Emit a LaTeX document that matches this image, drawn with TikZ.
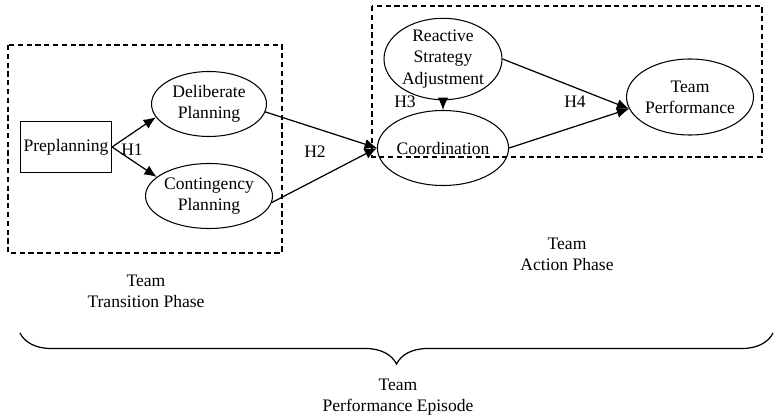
\documentclass[tikz,border=0pt]{standalone}
\usepackage{fontspec}
\setmainfont{Liberation Serif}
\usepackage{tikz}
\usetikzlibrary{positioning,decorations.pathreplacing,shapes,arrows.meta}
\tikzstyle{blk}=[draw, minimum height = 1.02cm, minimum width=1.82cm, inner sep=1pt, line width=0.6pt]
\tikzstyle{ell}=[draw, ellipse, minimum height = 1.3cm, minimum width=2.3cm, inner sep=0pt, align=center, line width=0.6pt]
\tikzstyle{phase}=[draw, dashed, dash pattern=on 3pt off 2pt, line width=0.9pt]
\tikzstyle{lab}=[align=center]

\begin{document}
\begin{tikzpicture}[node distance=2cm,auto,>={Latex[length=7pt,width=6pt]}]
\useasboundingbox (0,0) rectangle (15.48,-8.38);

\node[blk] at (1.32,-2.94) (pre) {Preplanning};
\node[ell] at (4.18,-2.08) (dp) {Deliberate\\Planning};
\node[ell, below of = dp, node distance = 1.84cm] (cp) {Contingency\\Planning};

\node[ell, minimum height = 1.56cm, minimum width = 2.36cm] at (8.86,-1.18) (rsa) {Reactive\\Strategy\\Adjustment};
\node[ell, minimum height = 1.5cm, minimum width = 2.36cm, below of = rsa, node distance = 1.78cm] (coord) {Coordination};
\node[ell, minimum height = 1.52cm, minimum width = 2.32cm] at (13.8,-1.94) (tp) {Team\\Performance};

% hypothesis labels
\node at (2.64,-3.0) (h1) {H1};
\node at (6.3,-3.04) (h2) {H2};
\node at (8.1,-2.04) (h3) {H3};
\node at (11.5,-2.04) (h4) {H4};

\draw[->, line width=0.7pt] (pre.east) -- (dp.194);
\draw[->, line width=0.7pt] (pre.east) -- (cp.160);
\draw[->, line width=0.7pt] (dp.-8) -- (coord.west);
\draw[->, line width=0.7pt] (cp.-6) -- (coord.west);
\draw[->, line width=0.7pt] (rsa.south) -- (coord.north);
\draw[->, line width=0.7pt] (rsa.east) -- (tp.191);
\draw[->, line width=0.7pt] (coord.east) -- (tp.191);

% phases
\draw[phase] (0.16,-0.9) rectangle (5.64,-5.06);
\draw[phase] (7.44,-0.12) rectangle (15.24,-3.14);
\node[lab] at (2.92,-5.83) (trans) {Team\\Transition Phase};
\node[lab] at (11.34,-5.08) (act) {Team\\Action Phase};

\coordinate (bl) at (0.4,-6.66);
\coordinate (br) at (15.46,-6.66);
\draw[line width=0.7pt, decorate, decoration={brace, amplitude=0.62cm, mirror}] (bl) -- (br);
\node[lab] at (7.96,-7.95) (episode) {Team\\Performance Episode};
\end{tikzpicture}
\end{document}
